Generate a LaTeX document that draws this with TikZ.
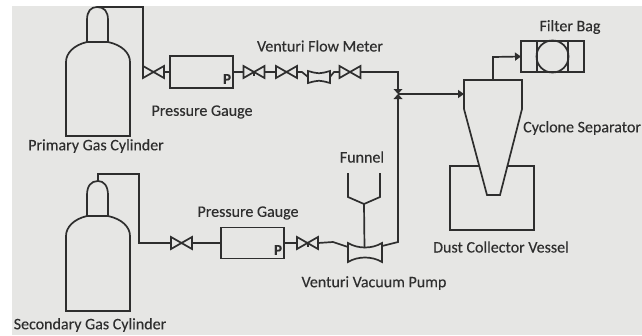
\documentclass[tikz,border=0pt]{standalone}
\usepackage{fontspec}
\setmainfont[FakeBold=0.2]{Carlito}
\usetikzlibrary{arrows.meta,calc}
\definecolor{bgc}{HTML}{E6E6E4}
\definecolor{ink}{HTML}{2E2E2E}
\tikzset{
  pipe/.style={draw=ink,line width=1.7pt,line join=miter},
  flow/.style={pipe,-{Triangle[length=6pt,width=8pt,fill=ink]}},
  lab/.style={text=ink,font=\fontsize{16}{18}\selectfont,inner sep=0pt,anchor=center},
  hbox/.style={draw=ink,line width=1.7pt,inner sep=0pt,outer sep=0pt},
  valvebox/.style={inner sep=0pt,outer sep=0pt,minimum width=21pt,minimum height=12pt},
  ventbox/.style={inner sep=0pt,outer sep=0pt},
  pmark/.style={text=ink,font=\fontsize{15}{17}\selectfont\bfseries,inner sep=0pt}
}
\newcommand{\myvalve}[3]{%
  \node[valvebox] (#1) at (#2,#3) {};
  \draw[pipe] (#1.north west)--(#1.south east)--(#1.north east)--(#1.south west)--cycle;}
\newcommand{\stemdot}[1]{\fill[ink] (#1.center) ++(-1pt,0) rectangle ++(2pt,-4pt);}
\begin{document}
\begin{tikzpicture}[x=1pt,y=-1pt]
\useasboundingbox (0,0) rectangle (642,335);
\fill[white] (0,0) rectangle (642,335);
\fill[bgc] (12,6) rectangle (642,335);

% primary cylinder
\draw[pipe] (87,42) .. controls (74,45) and (66,53) .. (66,62) -- (66,136) -- (130,136) -- (130,62) .. controls (130,53) and (122,45) .. (108,42) -- cycle;
\draw[pipe] (87,42) -- (87,20) .. controls (87,11) and (91,7) .. (97,7) .. controls (104,7) and (108,11) .. (108,20) -- (108,42);
% secondary cylinder
\draw[pipe] (87,216) .. controls (74,219) and (66,227) .. (66,236) -- (66,311) -- (130,311) -- (130,236) .. controls (130,227) and (122,219) .. (108,216) -- cycle;
\draw[pipe] (87,216) -- (87,195) .. controls (87,186) and (91,181) .. (98,181) .. controls (104,181) and (108,186) .. (108,195) -- (108,216);

\coordinate (topA) at (97,7);
\coordinate (topB) at (98,181);

% primary line
\myvalve{va}{153.5}{72}
\node[hbox,minimum width=63pt,minimum height=32pt] (ga) at (201.5,72) {};
\node[pmark] (pa) at (227,79) {P};
\myvalve{vb}{254}{72}
\stemdot{vb}
\myvalve{vc}{286.5}{72}
\node[ventbox,minimum width=22pt,minimum height=12pt] (vm) at (319,77) {};
\draw[pipe] (vm.north west) .. controls ($(vm.north)+(0,3)$) .. (vm.north east) -- (vm.south east) .. controls ($(vm.south)+(0,-3)$) .. (vm.south west) -- cycle;
\myvalve{vd}{350}{72}
\node[inner sep=0pt,outer sep=0pt,minimum width=9pt,minimum height=10pt] (vv) at (398,94) {};
\fill[ink] (vv.north west)--(vv.north east)--(vv.south west)--(vv.south east)--cycle;
\coordinate (ja) at (143,7);
\coordinate (jb) at (143,72);
\coordinate (jc) at (398,72);
\draw[pipe] (topA) -- (ja) -- (jb) -- (va.west);
\draw[pipe] (va.east) -- (ga.west);
\draw[pipe] (ga.east) -- (vb.west);
\draw[pipe] (vb.east) -- (vc.west);
\draw[pipe] (vc.east) -- (302,72) -- (vm.west);
\draw[pipe] (vm.east) -- (334,72) -- (vd.west);
\draw[pipe] (vd.east) -- (jc) -- (vv.north);

% cyclone
\coordinate (ca) at (464,80);
\coordinate (cb) at (522,80);
\coordinate (cc) at (522,109);
\coordinate (cd) at (500,195);
\coordinate (ce) at (487,195);
\coordinate (cf) at (464,109);
\draw[pipe] (ca) -- (cb) -- (cc) -- (cd) -- (ce) -- (cf) -- cycle;
\draw[flow] (vv.center) -- (ca |- vv.center);

% filter bag
\node[hbox,minimum width=63pt,minimum height=31pt] (fb) at (552.5,56.5) {};
\draw[pipe] (537,41) -- (537,72) (568,41) -- (568,72);
\draw[pipe] (fb.center) circle (16pt);
\coordinate (ct) at (493,80);
\draw[flow] (ct) -- (493,57) -- (fb.west);

% vessel
\coordinate (ve) at (480,166);
\coordinate (vf) at (507,166);
\draw[pipe] (ve) -- (450,166) -- (450,230) -- (534,230) -- (534,166) -- (vf);

% secondary line
\myvalve{ve1}{181.5}{243}
\node[hbox,minimum width=63pt,minimum height=31pt] (gb) at (252.5,243) {};
\node[pmark] (pb) at (278,250) {P};
\myvalve{ve2}{307.5}{243}
\stemdot{ve2}
\coordinate (jd) at (98,174);
\coordinate (je) at (139,174);
\coordinate (jf) at (139,243);
\draw[pipe] (topB) -- (jd) -- (je) -- (jf) -- (ve1.west);
\draw[pipe] (ve1.east) -- (gb.west);
\draw[pipe] (gb.east) -- (ve2.west);

% venturi vacuum pump
\coordinate (pl1) at (348,243);
\coordinate (pr1) at (382,243);
\coordinate (pr2) at (382,262);
\coordinate (pl2) at (348,262);
\coordinate (pm) at (364.5,248);
\draw[pipe] (pl1) .. controls (358,249) and (372,249) .. (pr1) -- (pr2) .. controls (372,256) and (358,256) .. (pl2) -- cycle;
\draw[pipe] (ve2.east) -- (333,242) -- (348,247);
\draw[pipe] (382,246) -- (398,242) -- (vv.south);

% funnel
\coordinate (fa) at (348,173);
\coordinate (fc) at (380,173);
\coordinate (fap) at (364,204);
\draw[pipe] (fa) -- (348,197) -- (fap) -- (380,197) -- (fc);
\draw[pipe] (fap) -- (pm);

% labels
\node[lab] (l1) at (96,146) {Primary Gas Cylinder};
\node[lab] (l2) at (202,112) {Pressure Gauge};
\node[lab] (l3) at (320,46) {Venturi Flow Meter};
\node[lab] (l4) at (570,27) {Filter Bag};
\node[lab,anchor=west] (l5) at (523,128) {Cyclone Separator};
\node[lab] (l6) at (362,157) {Funnel};
\node[lab] (l7) at (248,213) {Pressure Gauge};
\node[lab] (l8) at (374,283) {Venturi Vacuum Pump};
\node[lab] (l9) at (501,247) {Dust Collector Vessel};
\node[lab] (l10) at (90,325) {Secondary Gas Cylinder};
\end{tikzpicture}
\end{document}
